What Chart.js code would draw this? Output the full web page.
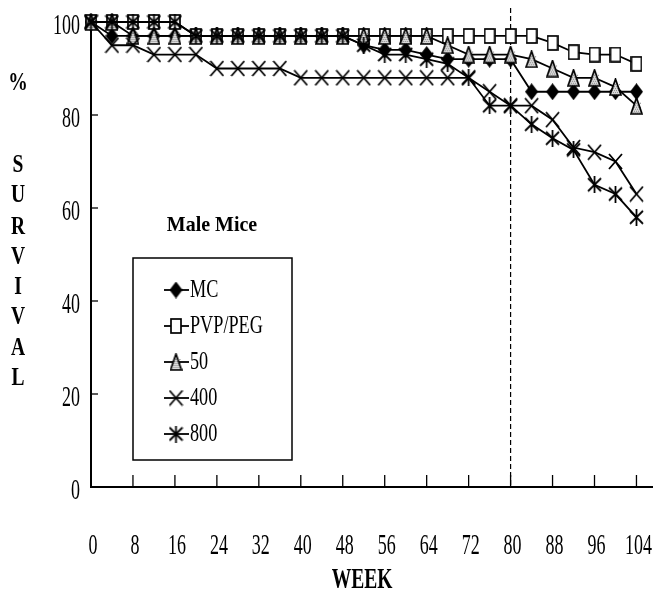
<!DOCTYPE html>
<html><head><meta charset="utf-8">
<script src="https://cdn.jsdelivr.net/npm/chart.js@4/dist/chart.umd.min.js"></script>
<style>html,body{margin:0;padding:0;background:#fff}</style>
</head><body>
<canvas id="c" width="660" height="599"></canvas>
<script>
const weeks = [0,4,8,12,16,20,24,28,32,36,40,44,48,52,56,60,64,68,72,76,80,84,88,92,96,100,104];
const xTickLabels = [0,8,16,24,32,40,48,56,64,72,80,88,96,104];
const yTickLabels = [0,20,40,60,80,100];
const seriesNames = ['MC','PVP/PEG','50','400','800'];
const mc     = [100,97,97,97,97,97,97,97,97,97,97,97,97,95,94,94,93,92,92,92,92,85,85,85,85,85,85];
const pvpPeg = [100,100,100,100,100,97,97,97,97,97,97,97,97,97,97,97,97,97,97,97,97,97,95.5,93.5,93,93,91];
const dose50 = [100,100,97,97,97,97,97,97,97,97,97,97,97,97,97,97,97,95,93,93,93,92,90,88,88,86,82];
const dose400= [100,95,95,93,93,93,90,90,90,90,88,88,88,88,88,88,88,88,88,85,82,82,79,73,72,70,63];
const dose800= [100,100,100,100,100,97,97,97,97,97,97,97,97,95,93,93,92,91,88,82,82,78,75,72.5,65,63,58];
const markWeek = 80;
const yTitle = '%SURVIVAL';
const xTitle = 'WEEK';
const legendTitle = 'Male Mice';

function mk(w,h,draw){const c=document.createElement('canvas');c.width=w;c.height=h;const g=c.getContext('2d');draw(g,w,h);return c;}
const diamond = mk(13,17,(g)=>{g.beginPath();g.moveTo(6.5,0);g.lineTo(13,8.5);g.lineTo(6.5,17);g.lineTo(0,8.5);g.closePath();g.fillStyle='#000';g.fill();});
const square = mk(12,16,(g)=>{g.fillStyle='#fff';g.fillRect(1,1,10,14);g.strokeStyle='#000';g.lineWidth=1.7;g.strokeRect(1,1,10,14);});
const triangle = mk(13,18,(g)=>{g.beginPath();g.moveTo(6.5,1);g.lineTo(12,17);g.lineTo(1,17);g.closePath();g.fillStyle='#dadada';g.fill();g.fillStyle='#8a8a8a';for(let yy=6;yy<17;yy+=2){for(let xx=3;xx<11;xx+=2){g.fillRect(xx+(yy%4?1:0),yy,1,1);}}g.strokeStyle='#000';g.lineWidth=1.7;g.stroke();});
const cross = mk(15,17,(g)=>{g.strokeStyle='#000';g.lineWidth=1.8;g.beginPath();g.moveTo(1,1);g.lineTo(14,16);g.moveTo(14,1);g.lineTo(1,16);g.stroke();});
const star = mk(15,17,(g)=>{g.strokeStyle='#000';g.lineWidth=1.8;g.beginPath();g.moveTo(1,2);g.lineTo(14,15);g.moveTo(14,2);g.lineTo(1,15);g.moveTo(7.5,0);g.lineTo(7.5,17);g.stroke();});
const markers = [diamond,square,triangle,cross,star];
const values = [mc,pvpPeg,dose50,dose400,dose800];

const datasets = values.map((arr,i)=>({
  label: seriesNames[i],
  data: weeks.map((w,j)=>({x:w,y:arr[j]})),
  borderColor:'#000', borderWidth:1.8, backgroundColor:'#000',
  pointStyle: markers[i], pointRadius:6, pointHoverRadius:6,
  tension:0, clip:false, order: 5-i
}));

function ctext(ctx,txt,x,y,font,sx,align){ctx.save();ctx.translate(x,y);ctx.scale(sx,1);ctx.font=font;ctx.textAlign=align;ctx.textBaseline='middle';ctx.fillStyle='#000';ctx.fillText(txt,0,0);ctx.restore();}

const deco = {
  id:'deco',
  beforeDatasetsDraw(chart){
    const ctx=chart.ctx, xs=chart.scales.x, ca=chart.chartArea;
    const px=xs.getPixelForValue(markWeek);
    ctx.save();ctx.strokeStyle='#000';ctx.lineWidth=1.2;ctx.setLineDash([5,3]);
    ctx.beginPath();ctx.moveTo(px,8);ctx.lineTo(px,ca.bottom);ctx.stroke();ctx.restore();
  },
  afterDraw(chart){
    const ctx=chart.ctx, xs=chart.scales.x, ys=chart.scales.y, ca=chart.chartArea;
    ctx.save();ctx.strokeStyle='#000';ctx.lineWidth=1.3;
    xTickLabels.forEach(v=>{if(v===0)return;const p=xs.getPixelForValue(v);ctx.beginPath();ctx.moveTo(p,ca.bottom);ctx.lineTo(p,ca.bottom-12);ctx.stroke();});
    yTickLabels.forEach(v=>{if(v===0||v===100)return;const p=ys.getPixelForValue(v);ctx.beginPath();ctx.moveTo(ca.left,p);ctx.lineTo(ca.left+7,p);ctx.stroke();});
    ctx.restore();
    const tf='29px "Liberation Serif", serif';
    xTickLabels.forEach(v=>ctext(ctx,String(v),xs.getPixelForValue(v)+2,546,tf,0.62,'center'));
    yTickLabels.forEach(v=>ctext(ctx,String(v),80,ys.getPixelForValue(v)+4,tf,0.62,'right'));
    ctext(ctx,xTitle,362,580,'bold 30px "Liberation Serif", serif',0.65,'center');
    const ty=[83,165,195,227,257,287,317,348,378];
    yTitle.split('').forEach((ch,i)=>ctext(ctx,ch,18,ty[i],'bold 26px "Liberation Serif", serif',0.75,'center'));
    // legend
    ctx.save();ctx.strokeStyle='#000';ctx.lineWidth=1.5;ctx.strokeRect(133,258,159,202);ctx.restore();
    ctext(ctx,legendTitle,212,226,'bold 21px "Liberation Serif", serif',0.95,'center');
    seriesNames.forEach((n,i)=>{
      const y=290+i*36;
      ctx.save();ctx.strokeStyle='#000';ctx.lineWidth=1.8;ctx.beginPath();ctx.moveTo(164,y);ctx.lineTo(189,y);ctx.stroke();
      const m=markers[i];ctx.drawImage(m,176-m.width/2,y-m.height/2);ctx.restore();
      ctext(ctx,n,190,y,'26px "Liberation Serif", serif',0.7,'left');
    });
  }
};

new Chart(document.getElementById('c'),{
  type:'line',
  data:{datasets},
  options:{
    responsive:false, animation:false, devicePixelRatio:1,
    layout:{padding:{left:91,right:3,top:22,bottom:112}},
    plugins:{legend:{display:false},tooltip:{enabled:false}},
    scales:{
      x:{type:'linear',min:0,max:107,ticks:{display:false},grid:{display:false,drawTicks:false},border:{display:true,color:'#000',width:2}},
      y:{type:'linear',min:0,max:100,ticks:{display:false},grid:{display:false,drawTicks:false},border:{display:true,color:'#000',width:2}}
    }
  },
  plugins:[deco]
});
</script>
</body></html>
